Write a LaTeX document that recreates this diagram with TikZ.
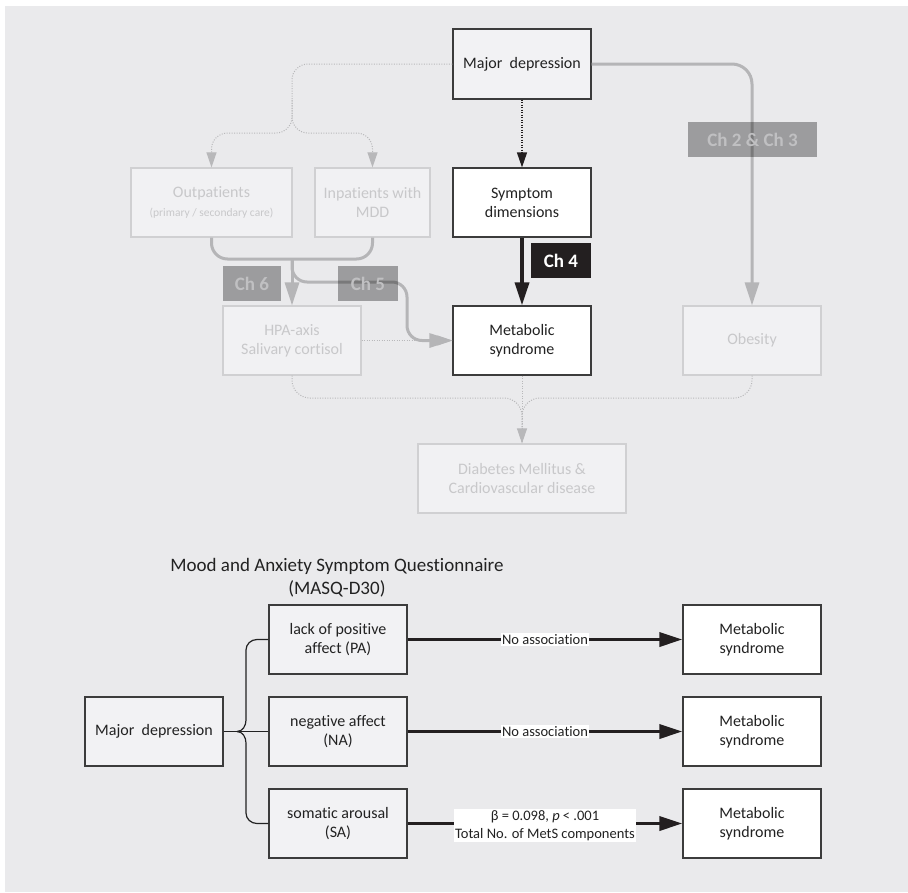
\documentclass[tikz,border=0pt]{standalone}
\usepackage{fontspec}
\setmainfont{Carlito}[Ligatures=NoCommon]
\usetikzlibrary{arrows.meta}
\definecolor{bgc}{RGB}{234,234,236}
\definecolor{fadefill}{RGB}{241,241,243}
\definecolor{fadeborder}{RGB}{208,208,210}
\definecolor{fadetext}{RGB}{200,200,202}
\definecolor{gline}{RGB}{181,181,183}
\definecolor{dotgray}{RGB}{184,184,186}
\definecolor{darkline}{RGB}{35,31,32}
\definecolor{boxborder}{RGB}{60,60,60}
\definecolor{lightfill}{RGB}{242,242,244}
\definecolor{chtext}{RGB}{192,192,194}
\definecolor{txt}{RGB}{34,34,34}
\begin{document}
\begin{tikzpicture}[x=1pt,y=-1pt,
  box/.style={rectangle, line width=1.2pt, inner sep=2pt, align=center, font=\fontsize{16}{19}\selectfont},
  fadebox/.style={box, draw=fadeborder, fill=fadefill, text=fadetext},
  darkbox/.style={box, draw=boxborder, fill=white, text=txt},
  lightbox/.style={box, draw=boxborder, fill=lightfill, text=txt},
  gthick/.style={draw=gline, line width=3pt},
  garrow/.style={-{Triangle[length=23pt,width=14pt]}},
  gsmall/.style={-{Triangle[length=15pt,width=10pt]}},
  dotf/.style={draw=dotgray, line width=1pt, dash pattern=on 1pt off 1.5pt},
  dotdark/.style={draw=darkline, line width=1.2pt, dash pattern=on 1pt off 1.5pt},
  chlab/.style={rectangle, fill=black, fill opacity=0.33, text opacity=1, text=chtext, inner sep=0pt, font=\bfseries\fontsize{19}{22}\selectfont},
  bline/.style={draw=darkline, line width=3.5pt, -{Triangle[length=23pt,width=14pt]}},
  lab/.style={fill=white, inner sep=1.2pt, text=txt, font=\fontsize{14.5}{18}\selectfont}
]
\useasboundingbox (0,0) rectangle (908,892);
\fill[white] (0,0) rectangle (908,892);
\fill[bgc] (5,6) rectangle (908,892);

% ---------- top diagram ----------
\node[lightbox, minimum width=138pt, minimum height=70pt] (md) at (522,64) {Major\ \ depression};
\node[darkbox, minimum width=138pt, minimum height=69pt] (sd) at (522,202.5) {Symptom\\dimensions};
\node[darkbox, minimum width=138pt, minimum height=69pt] (ms) at (522,340.5) {Metabolic\\syndrome};
\node[fadebox, minimum width=161pt, minimum height=69pt] (op) at (211.5,202.5) {Outpatients\\{\fontsize{11.5}{15}\selectfont (primary / secondary care)}};
\node[fadebox, minimum width=115pt, minimum height=69pt] (ip) at (372.5,202.5) {Inpatients with\\MDD};
\node[fadebox, minimum width=138pt, minimum height=69pt] (hpa) at (292,340.5) {HPA-axis\\Salivary cortisol};
\node[fadebox, minimum width=138pt, minimum height=69pt] (ob) at (752,340.5) {Obesity};
\node[fadebox, minimum width=208pt, minimum height=69pt] (dm) at (522,478.5) {Diabetes Mellitus \&\\Cardiovascular disease};

\coordinate (sp) at (292,133);
\coordinate (spt) at (292,100);
\coordinate (mg) at (292,259);
\coordinate (c5) at (407,282);
\coordinate (jn) at (522,398);

% dotted split from Major depression
\draw[dotf, rounded corners=16, gsmall] (md.west) -| (sp) -| (op.north);
\draw[dotf, rounded corners=16, gsmall] (spt) -- (sp) -| (ip.north);
\draw[dotdark, gsmall] (md.south) -- (sd.north);

% thick gray
\draw[gthick, rounded corners=16] (op.south) |- (mg) -| (ip.south);
\draw[dotf, gsmall] (hpa.east) -- (ms.west);
\draw[gthick, garrow] (mg) -- (hpa.north);
\draw[gthick, garrow, rounded corners=15] (mg) |- (c5) |- (ms.west);
\draw[gthick, garrow, rounded corners=20] (md.east) -| (ob.north);

% black arrow Ch 4
\draw[draw=darkline, line width=3.5pt, -{Triangle[length=23pt,width=14pt]}] (sd.south) -- (ms.north);

% dotted bottom merge
\draw[dotf, rounded corners=18] (hpa.south) |- (jn) -- (dm.north);
\draw[dotf, rounded corners=18] (ob.south) |- (jn) -- (dm.north);
\draw[dotf, gsmall] (ms.south) -- (dm.north);

% chapter labels
\node[rectangle, fill=darkline, text=white, inner sep=0pt, minimum width=60pt, minimum height=35pt, font=\bfseries\fontsize{19}{22}\selectfont] (ch4) at (561,260.5) {Ch 4};
\node[chlab, minimum width=58pt, minimum height=35pt] (ch6) at (252,283.5) {Ch 6};
\node[chlab, minimum width=60pt, minimum height=35pt] (ch5) at (368,283.5) {Ch 5};
\node[chlab, minimum width=129pt, minimum height=35pt] (ch23) at (752.5,139.5) {Ch 2 \& Ch 3};

% ---------- bottom diagram ----------
\node[text=txt, align=center, font=\fontsize{19}{23}\selectfont] (title) at (337,577.5) {Mood and Anxiety Symptom Questionnaire\\(MASQ-D30)};
\node[lightbox, minimum width=138pt, minimum height=69pt] (md2) at (154,731.5) {Major\ \ depression};
\node[lightbox, minimum width=138pt, minimum height=69pt] (pa) at (338,639.5) {lack of positive\\affect (PA)};
\node[lightbox, minimum width=138pt, minimum height=69pt] (na) at (338,731.5) {negative affect\\(NA)};
\node[lightbox, minimum width=138pt, minimum height=69pt] (sa) at (338,823.5) {somatic arousal\\(SA)};
\node[darkbox, minimum width=138pt, minimum height=69pt] (ms1) at (752,639.5) {Metabolic\\syndrome};
\node[darkbox, minimum width=138pt, minimum height=69pt] (ms2) at (752,731.5) {Metabolic\\syndrome};
\node[darkbox, minimum width=138pt, minimum height=69pt] (ms3) at (752,823.5) {Metabolic\\syndrome};

% brace
\coordinate (btip) at (237,731.5);
\draw[draw=txt, line width=1.2pt] (md2.east) -- (na.west);
\draw[draw=txt, line width=1.2pt] (btip) to[out=0,in=-90] (246,720) -- (246,650) to[out=90,in=180] (257,639.5) -- (pa.west);
\draw[draw=txt, line width=1.2pt] (btip) to[out=0,in=90] (246,743) -- (246,813) to[out=-90,in=180] (257,823.5) -- (sa.west);

% arrows
\draw[bline] (pa.east) -- node[lab] {No association} (ms1.west);
\draw[bline] (na.east) -- node[lab] {No association} (ms2.west);
\draw[bline] (sa.east) -- node[lab, align=center, yshift=-2pt] {β = 0.098, \textit{p} < .001\\Total No. of MetS components} (ms3.west);
\end{tikzpicture}
\end{document}
